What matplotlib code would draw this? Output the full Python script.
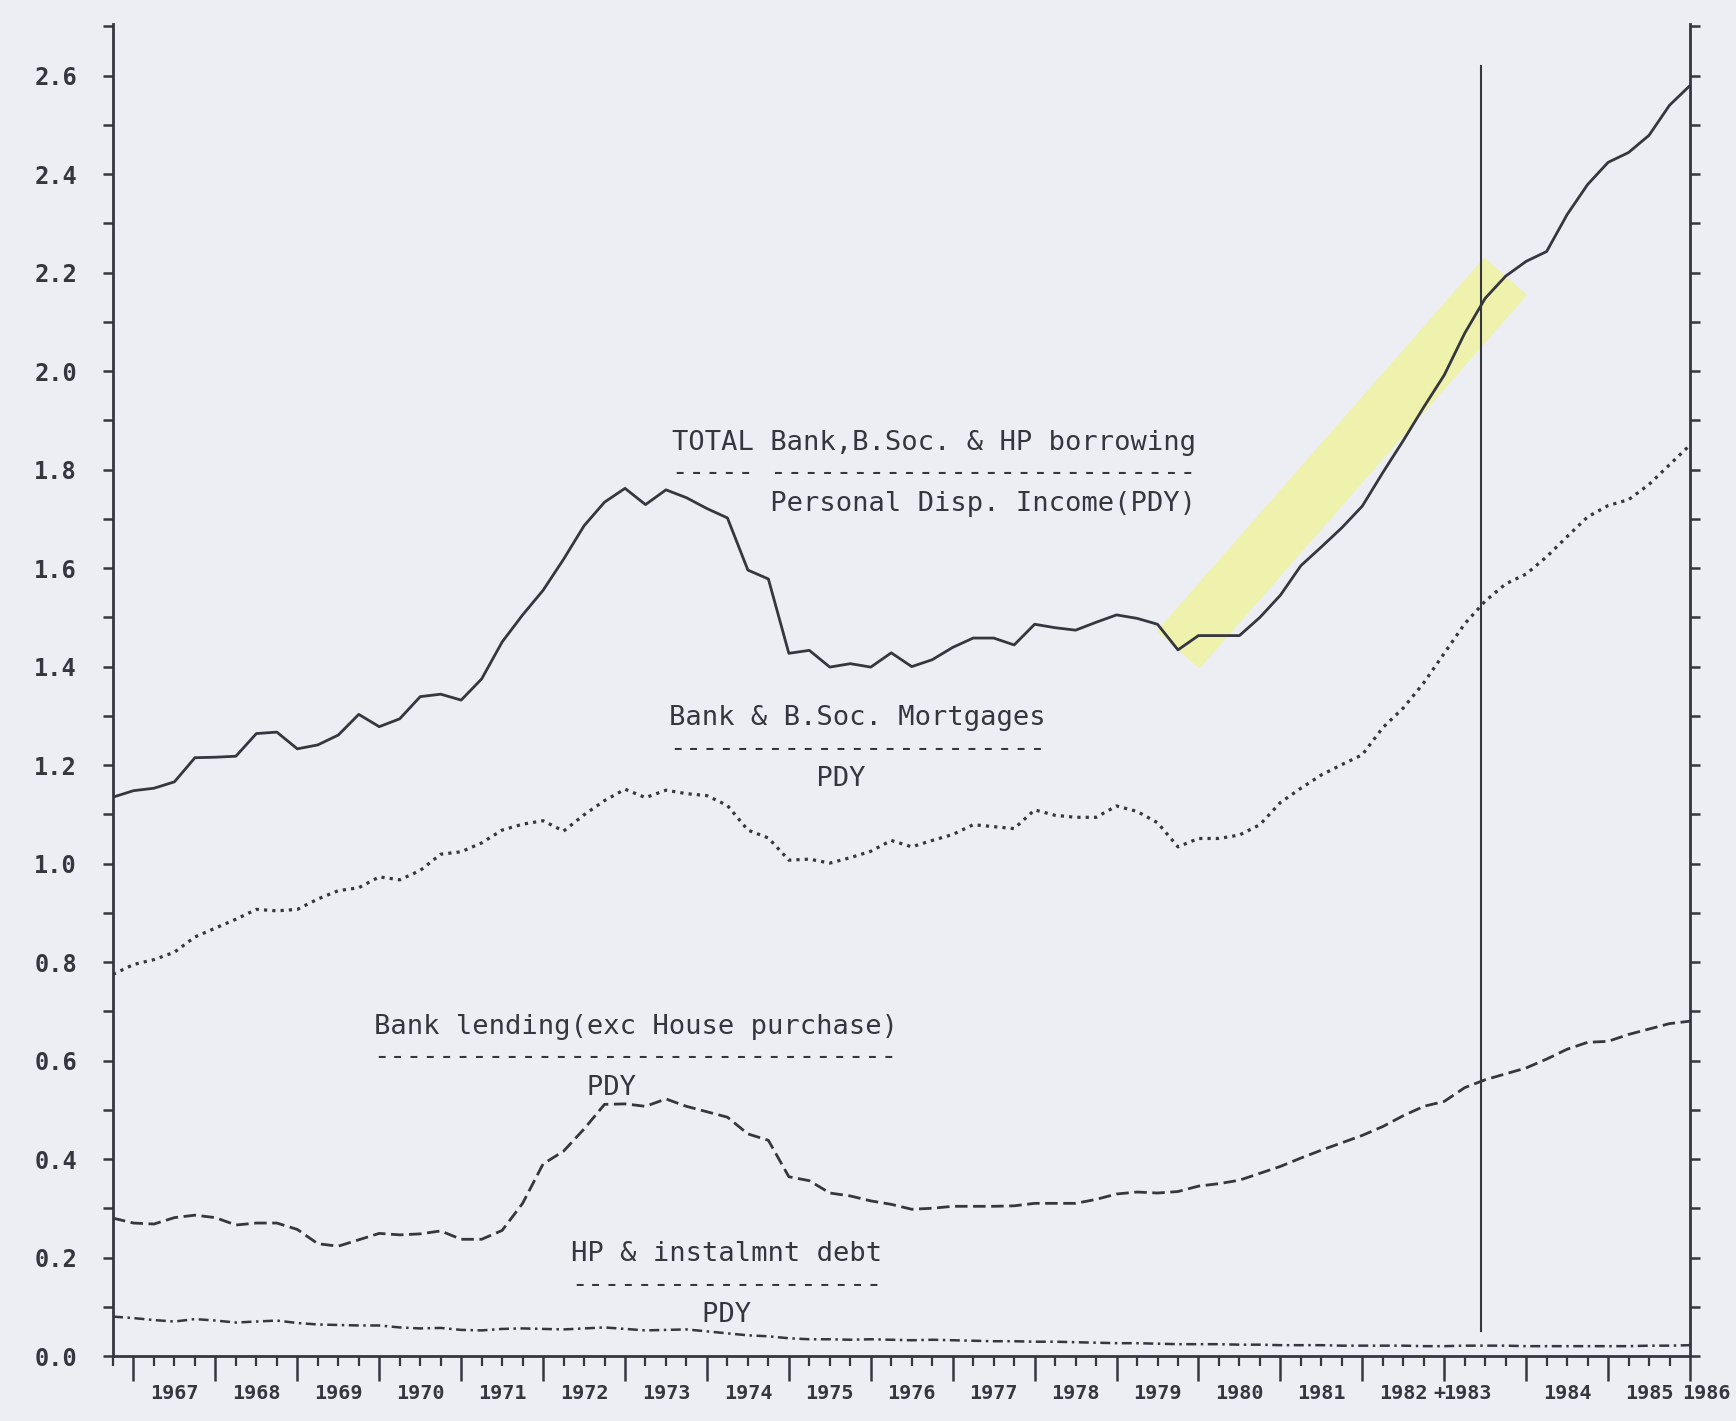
import numpy as np
import matplotlib.pyplot as plt
from matplotlib.ticker import MultipleLocator

# Borrowing / personal disposable income, quarterly from 1966 Q4
start_year = 1966.75

total = [1.135, 1.148, 1.153, 1.166, 1.215, 1.216, 1.218, 1.264, 1.267, 1.233,
         1.241, 1.261, 1.303, 1.278, 1.294, 1.339, 1.344, 1.332, 1.375, 1.450,
         1.505, 1.555, 1.618, 1.686, 1.734, 1.762, 1.729, 1.759, 1.743, 1.721,
         1.702, 1.596, 1.578, 1.427, 1.433, 1.399, 1.406, 1.399, 1.428, 1.400,
         1.414, 1.439, 1.458, 1.458, 1.444, 1.486, 1.479, 1.474, 1.490, 1.505,
         1.498, 1.486, 1.434, 1.463, 1.463, 1.463, 1.500, 1.545, 1.605, 1.643,
         1.682, 1.726, 1.794, 1.859, 1.927, 1.992, 2.077, 2.148, 2.193, 2.223,
         2.243, 2.318, 2.379, 2.424, 2.444, 2.479, 2.540, 2.580]

mortgages = [0.775, 0.795, 0.805, 0.820, 0.851, 0.869, 0.887, 0.907, 0.904, 0.907,
             0.928, 0.945, 0.951, 0.973, 0.967, 0.986, 1.019, 1.024, 1.042, 1.068,
             1.080, 1.087, 1.066, 1.099, 1.128, 1.151, 1.134, 1.149, 1.142, 1.138,
             1.118, 1.068, 1.052, 1.007, 1.009, 1.001, 1.012, 1.025, 1.047, 1.034,
             1.047, 1.059, 1.079, 1.075, 1.071, 1.109, 1.098, 1.094, 1.094, 1.117,
             1.106, 1.083, 1.034, 1.051, 1.051, 1.058, 1.079, 1.124, 1.153, 1.180,
             1.201, 1.221, 1.276, 1.316, 1.367, 1.427, 1.487, 1.533, 1.568, 1.588,
             1.623, 1.664, 1.704, 1.727, 1.739, 1.770, 1.810, 1.850]

lending = [0.280, 0.270, 0.268, 0.281, 0.286, 0.281, 0.266, 0.270, 0.270, 0.257,
           0.228, 0.223, 0.236, 0.249, 0.246, 0.248, 0.254, 0.237, 0.237, 0.255,
           0.310, 0.390, 0.416, 0.461, 0.511, 0.512, 0.507, 0.522, 0.507, 0.496,
           0.485, 0.451, 0.438, 0.364, 0.356, 0.331, 0.325, 0.315, 0.308, 0.298,
           0.300, 0.304, 0.304, 0.304, 0.305, 0.310, 0.310, 0.310, 0.318, 0.329,
           0.333, 0.331, 0.334, 0.345, 0.350, 0.357, 0.371, 0.385, 0.402, 0.418,
           0.433, 0.448, 0.466, 0.488, 0.507, 0.517, 0.545, 0.561, 0.573, 0.585,
           0.603, 0.623, 0.637, 0.639, 0.653, 0.664, 0.675, 0.680]

hp_debt = [0.080, 0.077, 0.073, 0.070, 0.075, 0.072, 0.068, 0.070, 0.072, 0.067,
           0.064, 0.063, 0.062, 0.062, 0.058, 0.056, 0.057, 0.053, 0.052, 0.055,
           0.056, 0.055, 0.054, 0.056, 0.058, 0.055, 0.052, 0.053, 0.054, 0.050,
           0.046, 0.042, 0.040, 0.036, 0.034, 0.034, 0.033, 0.034, 0.033, 0.032,
           0.033, 0.032, 0.031, 0.030, 0.030, 0.029, 0.029, 0.028, 0.027, 0.026,
           0.026, 0.025, 0.024, 0.024, 0.024, 0.023, 0.023, 0.022, 0.022, 0.022,
           0.021, 0.021, 0.021, 0.021, 0.020, 0.020, 0.021, 0.021, 0.021, 0.020,
           0.020, 0.020, 0.020, 0.020, 0.020, 0.021, 0.021, 0.022]

year_labels = [str(y) for y in range(1967, 1986)]
last_label = "1986"

# marker line where the series switch over (1983)
break_year = 1983.45
break_span = (0.05, 2.62)

# stretch of the total series picked out with the highlighter
hl_start, hl_end = 52, 68

quarters = start_year + 0.25 * np.arange(len(total))

ink = "#36363e"
paper = "#eceef4"
mono = "DejaVu Sans Mono"

fig = plt.figure(figsize=(17.36, 14.21), dpi=100, facecolor=paper)
ax = fig.add_axes([113 / 1736, 1 - 1356 / 1421, 1577 / 1736, 1332 / 1421])
ax.set_facecolor(paper)

ax.plot([quarters[hl_start], quarters[hl_end]], [total[hl_start], total[hl_end]],
        color="#eff3a4", lw=41, alpha=0.9, solid_capstyle="butt", zorder=1)

ax.plot(quarters, total, color=ink, lw=2.0, zorder=3)
ax.plot(quarters, mortgages, color=ink, lw=2.3, ls=(0, (1, 1.6)), zorder=3)
ax.plot(quarters, lending, color=ink, lw=2.0, ls=(0, (4.5, 2.0)), zorder=3)
ax.plot(quarters, hp_debt, color=ink, lw=1.8, ls=(0, (4, 1.8, 1, 1.8)), zorder=3)

ax.plot([break_year, break_year], break_span, color=ink, lw=1.5, zorder=3)

ax.set_xlim(start_year, quarters[-1])
ax.set_ylim(0, 2.705)

ax.spines["top"].set_visible(False)
for side in ["left", "bottom", "right"]:
    ax.spines[side].set_color(ink)
    ax.spines[side].set_linewidth(2.0)

# y axis: 0.2 labelled, 0.1 ticks on both sides
ax.set_yticks(np.arange(0, 2.61, 0.2))
ax.set_yticklabels(["%.1f" % v for v in np.arange(0, 2.61, 0.2)],
                   fontfamily=mono, fontweight="bold", fontsize=17, color=ink)
ax.yaxis.set_minor_locator(MultipleLocator(0.1))
ax.yaxis.set_ticks_position("both")
ax.tick_params(axis="y", which="both", direction="out", length=7, width=1.8,
               color=ink, pad=19, labelright=False)

# x axis: long ticks at year starts, short ones at quarters, labels mid-year
ax.set_xticks(np.arange(1967, 1987))
ax.set_xticklabels([])
ax.xaxis.set_minor_locator(MultipleLocator(0.25))
ax.tick_params(axis="x", which="major", direction="out", length=18, width=1.8, color=ink)
ax.tick_params(axis="x", which="minor", direction="out", length=7, width=1.6, color=ink)

label_kw = dict(xycoords=("data", "axes fraction"), textcoords="offset points",
                ha="center", va="center", fontfamily=mono, fontweight="bold",
                fontsize=14.5, color=ink, annotation_clip=False)
for lab in year_labels:
    yr = int(lab)
    pos = yr + 0.5
    if yr == 1983:
        pos = yr + 0.28
        ax.annotate("+", xy=(yr - 0.06, 0), xytext=(0, -27), **label_kw)
    ax.annotate(lab, xy=(pos, 0), xytext=(0, -27), **label_kw)
ax.annotate(last_label, xy=(1986.2, 0), xytext=(0, -27), **label_kw)

# series captions written as fractions over PDY
captions = [
    (1973.57, 1.855, ["TOTAL Bank,B.Soc. & HP borrowing",
                      "----- --------------------------",
                      "      Personal Disp. Income(PDY)"]),
    (1973.54, 1.295, ["Bank & B.Soc. Mortgages",
                      "-----------------------",
                      "         PDY"]),
    (1969.93, 0.669, ["Bank lending(exc House purchase)",
                      "--------------------------------",
                      "             PDY"]),
    (1972.34, 0.207, ["HP & instalmnt debt",
                      "-------------------",
                      "        PDY"]),
]
for x0, y0, lines in captions:
    for k, line in enumerate(lines):
        ax.annotate(line, xy=(x0, y0), xytext=(0, -22 * k), textcoords="offset points",
                    ha="left", va="center", fontfamily=mono, fontsize=19.5,
                    color=ink, zorder=4)

fig.savefig("out.png", dpi=100, facecolor=paper)
